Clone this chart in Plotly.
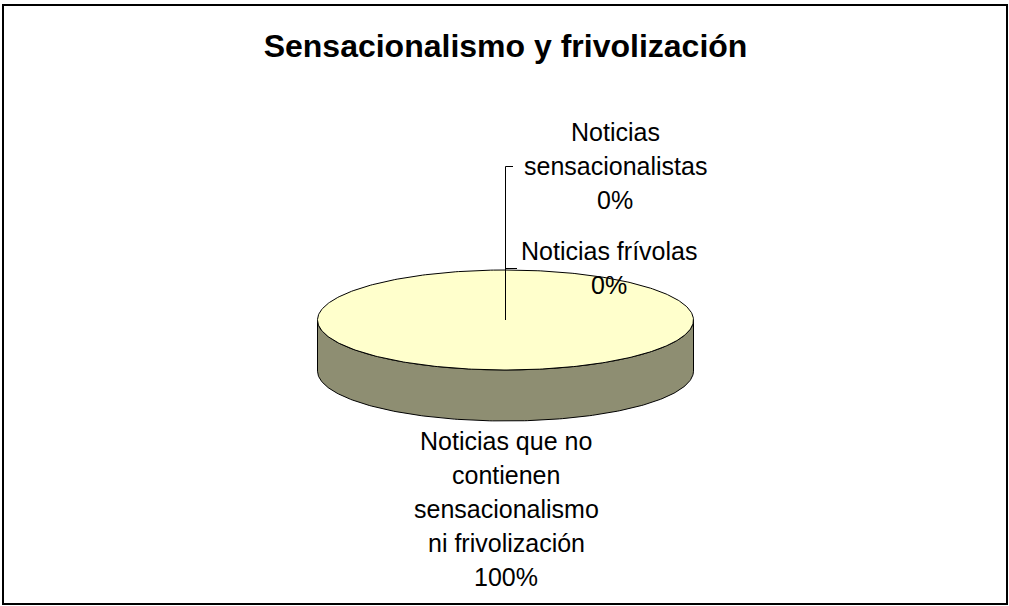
import numpy as np
import plotly.graph_objects as go

title = "Sensacionalismo y frivolización"
labels = ["Noticias sensacionalistas", "Noticias frívolas",
          "Noticias que no contienen sensacionalismo ni frivolización"]
values = [0, 0, 100]
# how the category names are wrapped on the chart
label_lines = [["Noticias", "sensacionalistas"],
               ["Noticias frívolas"],
               ["Noticias que no", "contienen", "sensacionalismo", "ni frivolización"]]

# look of the 3d pie (pixel units, y grows downwards)
cx, cy = 505.5, 320
rx, ry = 188, 50
depth = 51
top_color = "#FFFFCC"
side_color = "#8E8E72"
font = "Liberation Sans, Arial, sans-serif"
line_gap = 34
# where each label sits (centre x, centre y) and where its leader line ends
label_pos = [(615, 166), (609, 268), (506, 509)]
leader_end = [513, 517, None]

fig = go.Figure()

total = sum(values)
start = np.pi / 2  # first slice starts at 12 o'clock, going clockwise
sides, tops = [], []
for v in values:
    frac = v / total
    if frac <= 0:
        continue
    end = start - frac * 2 * np.pi
    t = np.linspace(start, end, 400)
    ex = cx + rx * np.cos(t)
    ey = cy - ry * np.sin(t)
    # front part of the rim
    front = np.sin(t) <= 0
    if front.any():
        idx = np.where(front)[0]
        runs = np.split(idx, np.where(np.diff(idx) > 1)[0] + 1)
        for r in runs:
            xs = list(ex[r]) + list(ex[r][::-1])
            ys = list(ey[r]) + list((ey[r] + depth)[::-1])
            sides.append((xs + [xs[0]], ys + [ys[0]]))
    if frac >= 1:
        tops.append((list(ex), list(ey)))
    else:
        tops.append(([cx] + list(ex) + [cx], [cy] + list(ey) + [cy]))
    start = end

for xs, ys in sides:
    fig.add_trace(go.Scatter(x=xs, y=ys, mode="lines", fill="toself",
                             fillcolor=side_color, line=dict(color="black", width=1),
                             hoverinfo="skip", showlegend=False))
for xs, ys in tops:
    fig.add_trace(go.Scatter(x=xs, y=ys, mode="lines", fill="toself",
                             fillcolor=top_color, line=dict(color="black", width=1),
                             hoverinfo="skip", showlegend=False))

# leader lines
for v, (lx, ly), le in zip(values, label_pos, leader_end):
    if le is None:
        continue
    fig.add_trace(go.Scatter(x=[cx, cx, le], y=[cy, ly + 0.5, ly + 0.5], mode="lines",
                             line=dict(color="black", width=1),
                             hoverinfo="skip", showlegend=False))

# labels, one annotation per line to get the wide line spacing
for v, lines, (lx, ly) in zip(values, label_lines, label_pos):
    rows = lines + [f"{v / total:.0%}"]
    n = len(rows)
    for i, txt in enumerate(rows):
        fig.add_annotation(x=lx, y=ly + (i - (n - 1) / 2) * line_gap, text=txt,
                           showarrow=False, xanchor="center", yanchor="middle",
                           font=dict(family=font, size=25, color="black"))

fig.add_shape(type="rect", xref="x", yref="y", x0=3, y0=5, x1=1007, y1=604,
              line=dict(color="black", width=2))

fig.update_layout(
    width=1009, height=606, autosize=False,
    margin=dict(l=0, r=0, t=0, b=0),
    paper_bgcolor="white", plot_bgcolor="white",
    title=dict(text=title, x=0.501, xanchor="center", y=1 - 46 / 606, yanchor="middle",
               font=dict(family=font, size=32, color="black", weight="bold")),
    xaxis=dict(range=[0, 1009], visible=False, fixedrange=True),
    yaxis=dict(range=[606, 0], visible=False, fixedrange=True),
)

fig.write_html("out.html", config={"displayModeBar": False},
               post_script="document.body.style.margin='0';")
